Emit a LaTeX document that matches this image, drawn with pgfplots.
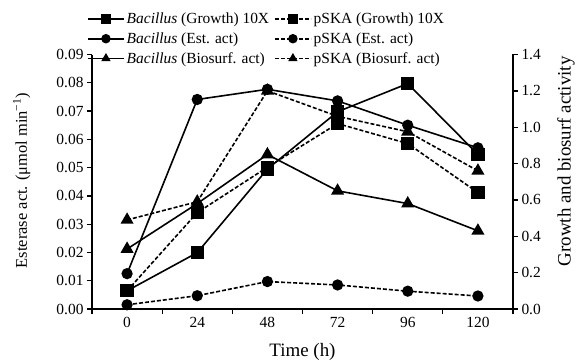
\documentclass[border=0pt]{standalone}
\usepackage{fontspec}
\setmainfont{Liberation Serif}
\usepackage{pgfplots}
\pgfplotsset{compat=1.18}
\begin{document}
\begin{tikzpicture}
\useasboundingbox (-92bp,-55bp) rectangle (484bp,309bp);
\pgfplotsset{
  common/.style={
    scale only axis, width=421bp, height=254.5bp,
    at={(0,0)}, anchor=south west,
    xmin=-12, xmax=132,
    clip=false,
    scaled y ticks=false,
    /pgf/number format/assume math mode=true,
    ticklabel style={font=\fontsize{15.5}{18}\selectfont},
    label style={font=\fontsize{19}{22}\selectfont},
    axis line style={line width=1.5bp},
  },
  after/.style={
    tick align=outside,
    major tick length=5bp, minor tick length=5bp,
    tick style={line width=1.3bp, black},
  },
  sol/.style={black, line width=1.6bp, solid},
  das/.style={black, line width=1.6bp, dash pattern=on 4bp off 2bp},
  sq/.style={mark=square*, mark size=5.8bp, mark options={solid}},
  ci/.style={mark=*, mark size=4.8bp, mark options={solid}},
  tr/.style={mark=triangle*, mark size=6bp, mark options={solid}},
}
\begin{axis}[common,
  axis x line*=bottom, axis y line*=left,
  after,
  xtick={0,24,48,72,96,120},
  minor xtick={-12,12,36,60,84,108,132},
  major x tick style={draw=none},
  ymin=0, ymax=0.09,
  ytick={0,0.01,0.02,0.03,0.04,0.05,0.06,0.07,0.08,0.09},
  yticklabel style={/pgf/number format/fixed, /pgf/number format/fixed zerofill, /pgf/number format/precision=2},
  xlabel={Time (h)},
  xlabel style={at={(axis description cs:0.5,-0.168)}, anchor=center},
  ylabel={Esterase act. (μmol min\textsuperscript{−1})},
  ylabel style={at={(axis description cs:-0.167,0.505)}, anchor=center, font=\fontsize{16.5}{19}\selectfont},
]
\addplot[sol, ci] coordinates {(0,0.0125) (24,0.0741) (48,0.0777) (72,0.0736) (96,0.0650) (120,0.0570)};
\addplot[das, ci] coordinates {(0,0.0015) (24,0.0047) (48,0.0097) (72,0.0085) (96,0.0063) (120,0.0046)};
\end{axis}
\begin{axis}[common,
  axis x line=none, axis y line*=right,
  after,
  ymin=0, ymax=1.4,
  ytick={0,0.2,0.4,0.6,0.8,1.0,1.2,1.4},
  yticklabel style={/pgf/number format/fixed, /pgf/number format/fixed zerofill, /pgf/number format/precision=1},
  ylabel={Growth and biosurf activity},
  ylabel style={at={(axis description cs:1.126,0.58)}, anchor=center},
  legend columns=2,
  legend cell align=left,
  legend style={at={(axis description cs:-0.012,1.172)}, anchor=north west,
    draw=none, fill=none, inner sep=0pt, row sep=3.5bp,
    font=\fontsize{15.5}{17}\selectfont,
    /tikz/every even column/.append style={column sep=3bp}},
  legend image code/.code={\draw[mark repeat=2,mark phase=2,mark size=3.9bp] plot coordinates {(0bp,0bp) (18bp,0bp) (36bp,0bp)};},
]
\addplot[sol, sq] coordinates {(0,0.10) (24,0.31) (48,0.77) (72,1.085) (96,1.24) (120,0.85)};
\addlegendentry{\textit{Bacillus} (Growth) 10X}
\addplot[das, sq] coordinates {(0,0.10) (24,0.53) (48,0.78) (72,1.02) (96,0.91) (120,0.64)};
\addlegendentry{pSKA (Growth) 10X}
\addlegendimage{sol, ci}
\addlegendentry{\textit{Bacillus} (Est. act)}
\addlegendimage{das, ci}
\addlegendentry{pSKA (Est. act)}
\addplot[sol, tr] coordinates {(0,0.33) (24,0.58) (48,0.85) (72,0.65) (96,0.58) (120,0.43)};
\addlegendentry{\textit{Bacillus} (Biosurf. act)}
\addplot[das, tr] coordinates {(0,0.49) (24,0.59) (48,1.20) (72,1.06) (96,0.975) (120,0.76)};
\addlegendentry{pSKA (Biosurf. act)}
\end{axis}
\end{tikzpicture}
\end{document}
